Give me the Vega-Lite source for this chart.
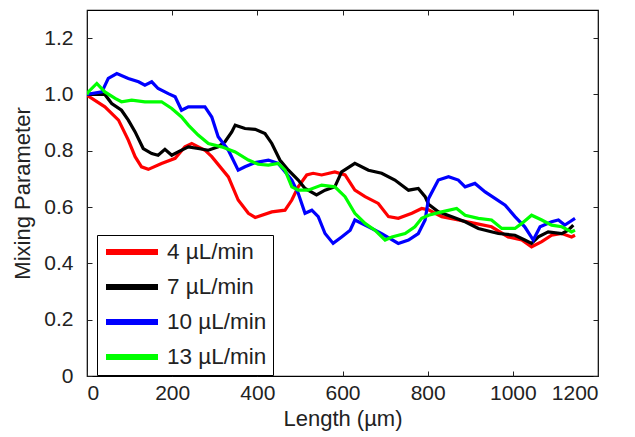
{
  "$schema": "https://vega.github.io/schema/vega-lite/v6.json",
  "width": 511,
  "height": 366,
  "autosize": {"type": "none"},
  "padding": {"left": 87, "top": 10, "right": 37, "bottom": 61},
  "background": "white",
  "config": {
    "font": "Liberation Sans",
    "view": {"stroke": "black", "strokeWidth": 1.2},
    "axis": {"grid": false, "domain": false, "tickColor": "#222", "tickSize": -5, "labelFont": "Liberation Sans", "labelFontSize": 21, "labelColor": "#222", "titleFont": "Liberation Sans", "titleFontSize": 22, "titleFontWeight": "normal", "titleColor": "#222"}
  },
  "data": {"values": [
    {"s":"4 µL/min","x":0,"y":1.0},{"s":"4 µL/min","x":3,"y":0.994},{"s":"4 µL/min","x":42,"y":0.956},{"s":"4 µL/min","x":74,"y":0.909},{"s":"4 µL/min","x":97,"y":0.838},{"s":"4 µL/min","x":113,"y":0.779},{"s":"4 µL/min","x":128,"y":0.743},{"s":"4 µL/min","x":144,"y":0.734},{"s":"4 µL/min","x":175,"y":0.755},{"s":"4 µL/min","x":207,"y":0.773},{"s":"4 µL/min","x":230,"y":0.814},{"s":"4 µL/min","x":246,"y":0.826},{"s":"4 µL/min","x":277,"y":0.802},{"s":"4 µL/min","x":293,"y":0.779},{"s":"4 µL/min","x":332,"y":0.707},{"s":"4 µL/min","x":355,"y":0.625},{"s":"4 µL/min","x":379,"y":0.578},{"s":"4 µL/min","x":395,"y":0.563},{"s":"4 µL/min","x":434,"y":0.583},{"s":"4 µL/min","x":465,"y":0.589},{"s":"4 µL/min","x":481,"y":0.625},{"s":"4 µL/min","x":496,"y":0.672},{"s":"4 µL/min","x":516,"y":0.714},{"s":"4 µL/min","x":531,"y":0.72},{"s":"4 µL/min","x":551,"y":0.714},{"s":"4 µL/min","x":582,"y":0.725},{"s":"4 µL/min","x":606,"y":0.714},{"s":"4 µL/min","x":629,"y":0.66},{"s":"4 µL/min","x":653,"y":0.637},{"s":"4 µL/min","x":684,"y":0.613},{"s":"4 µL/min","x":708,"y":0.566},{"s":"4 µL/min","x":731,"y":0.56},{"s":"4 µL/min","x":763,"y":0.578},{"s":"4 µL/min","x":786,"y":0.595},{"s":"4 µL/min","x":802,"y":0.59},{"s":"4 µL/min","x":833,"y":0.566},{"s":"4 µL/min","x":872,"y":0.554},{"s":"4 µL/min","x":911,"y":0.542},{"s":"4 µL/min","x":950,"y":0.53},{"s":"4 µL/min","x":989,"y":0.494},{"s":"4 µL/min","x":1021,"y":0.483},{"s":"4 µL/min","x":1044,"y":0.459},{"s":"4 µL/min","x":1068,"y":0.477},{"s":"4 µL/min","x":1091,"y":0.5},{"s":"4 µL/min","x":1115,"y":0.506},{"s":"4 µL/min","x":1138,"y":0.494},{"s":"4 µL/min","x":1146,"y":0.5},
    {"s":"7 µL/min","x":0,"y":1.0},{"s":"7 µL/min","x":42,"y":1.0},{"s":"7 µL/min","x":58,"y":0.968},{"s":"7 µL/min","x":81,"y":0.944},{"s":"7 µL/min","x":97,"y":0.909},{"s":"7 µL/min","x":113,"y":0.867},{"s":"7 µL/min","x":132,"y":0.808},{"s":"7 µL/min","x":152,"y":0.79},{"s":"7 µL/min","x":167,"y":0.784},{"s":"7 µL/min","x":183,"y":0.805},{"s":"7 µL/min","x":199,"y":0.784},{"s":"7 µL/min","x":214,"y":0.796},{"s":"7 µL/min","x":238,"y":0.814},{"s":"7 µL/min","x":261,"y":0.808},{"s":"7 µL/min","x":285,"y":0.802},{"s":"7 µL/min","x":308,"y":0.814},{"s":"7 µL/min","x":324,"y":0.832},{"s":"7 µL/min","x":340,"y":0.867},{"s":"7 µL/min","x":348,"y":0.891},{"s":"7 µL/min","x":371,"y":0.879},{"s":"7 µL/min","x":395,"y":0.876},{"s":"7 µL/min","x":418,"y":0.861},{"s":"7 µL/min","x":434,"y":0.826},{"s":"7 µL/min","x":453,"y":0.767},{"s":"7 µL/min","x":473,"y":0.731},{"s":"7 µL/min","x":496,"y":0.696},{"s":"7 µL/min","x":512,"y":0.666},{"s":"7 µL/min","x":539,"y":0.643},{"s":"7 µL/min","x":559,"y":0.66},{"s":"7 µL/min","x":582,"y":0.672},{"s":"7 µL/min","x":598,"y":0.725},{"s":"7 µL/min","x":629,"y":0.755},{"s":"7 µL/min","x":661,"y":0.731},{"s":"7 µL/min","x":692,"y":0.72},{"s":"7 µL/min","x":723,"y":0.696},{"s":"7 µL/min","x":755,"y":0.66},{"s":"7 µL/min","x":778,"y":0.666},{"s":"7 µL/min","x":794,"y":0.637},{"s":"7 µL/min","x":802,"y":0.61},{"s":"7 µL/min","x":825,"y":0.583},{"s":"7 µL/min","x":857,"y":0.566},{"s":"7 µL/min","x":888,"y":0.548},{"s":"7 µL/min","x":919,"y":0.524},{"s":"7 µL/min","x":966,"y":0.506},{"s":"7 µL/min","x":1005,"y":0.5},{"s":"7 µL/min","x":1028,"y":0.483},{"s":"7 µL/min","x":1044,"y":0.471},{"s":"7 µL/min","x":1060,"y":0.494},{"s":"7 µL/min","x":1083,"y":0.512},{"s":"7 µL/min","x":1115,"y":0.506},{"s":"7 µL/min","x":1130,"y":0.518},{"s":"7 µL/min","x":1142,"y":0.536},
    {"s":"10 µL/min","x":0,"y":1.0},{"s":"10 µL/min","x":35,"y":1.009},{"s":"10 µL/min","x":50,"y":1.057},{"s":"10 µL/min","x":70,"y":1.074},{"s":"10 µL/min","x":97,"y":1.057},{"s":"10 µL/min","x":121,"y":1.045},{"s":"10 µL/min","x":136,"y":1.033},{"s":"10 µL/min","x":152,"y":1.045},{"s":"10 µL/min","x":167,"y":1.021},{"s":"10 µL/min","x":191,"y":1.003},{"s":"10 µL/min","x":207,"y":0.992},{"s":"10 µL/min","x":222,"y":0.944},{"s":"10 µL/min","x":238,"y":0.956},{"s":"10 µL/min","x":254,"y":0.956},{"s":"10 µL/min","x":277,"y":0.956},{"s":"10 µL/min","x":293,"y":0.92},{"s":"10 µL/min","x":308,"y":0.85},{"s":"10 µL/min","x":332,"y":0.802},{"s":"10 µL/min","x":355,"y":0.731},{"s":"10 µL/min","x":371,"y":0.743},{"s":"10 µL/min","x":395,"y":0.758},{"s":"10 µL/min","x":426,"y":0.767},{"s":"10 µL/min","x":449,"y":0.755},{"s":"10 µL/min","x":481,"y":0.696},{"s":"10 µL/min","x":496,"y":0.649},{"s":"10 µL/min","x":512,"y":0.578},{"s":"10 µL/min","x":528,"y":0.589},{"s":"10 µL/min","x":543,"y":0.566},{"s":"10 µL/min","x":559,"y":0.506},{"s":"10 µL/min","x":578,"y":0.471},{"s":"10 µL/min","x":598,"y":0.494},{"s":"10 µL/min","x":618,"y":0.518},{"s":"10 µL/min","x":629,"y":0.554},{"s":"10 µL/min","x":661,"y":0.53},{"s":"10 µL/min","x":692,"y":0.506},{"s":"10 µL/min","x":731,"y":0.471},{"s":"10 µL/min","x":755,"y":0.483},{"s":"10 µL/min","x":778,"y":0.506},{"s":"10 µL/min","x":794,"y":0.554},{"s":"10 µL/min","x":802,"y":0.63},{"s":"10 µL/min","x":825,"y":0.696},{"s":"10 µL/min","x":849,"y":0.708},{"s":"10 µL/min","x":872,"y":0.696},{"s":"10 µL/min","x":888,"y":0.672},{"s":"10 µL/min","x":911,"y":0.684},{"s":"10 µL/min","x":935,"y":0.654},{"s":"10 µL/min","x":958,"y":0.631},{"s":"10 µL/min","x":982,"y":0.607},{"s":"10 µL/min","x":1005,"y":0.566},{"s":"10 µL/min","x":1028,"y":0.53},{"s":"10 µL/min","x":1048,"y":0.483},{"s":"10 µL/min","x":1064,"y":0.53},{"s":"10 µL/min","x":1091,"y":0.548},{"s":"10 µL/min","x":1107,"y":0.554},{"s":"10 µL/min","x":1122,"y":0.536},{"s":"10 µL/min","x":1134,"y":0.548},{"s":"10 µL/min","x":1146,"y":0.56},
    {"s":"13 µL/min","x":0,"y":1.0},{"s":"13 µL/min","x":3,"y":1.009},{"s":"13 µL/min","x":23,"y":1.039},{"s":"13 µL/min","x":42,"y":1.009},{"s":"13 µL/min","x":66,"y":0.986},{"s":"13 µL/min","x":81,"y":0.974},{"s":"13 µL/min","x":105,"y":0.98},{"s":"13 µL/min","x":136,"y":0.974},{"s":"13 µL/min","x":175,"y":0.974},{"s":"13 µL/min","x":199,"y":0.95},{"s":"13 µL/min","x":222,"y":0.92},{"s":"13 µL/min","x":238,"y":0.891},{"s":"13 µL/min","x":261,"y":0.856},{"s":"13 µL/min","x":285,"y":0.826},{"s":"13 µL/min","x":316,"y":0.814},{"s":"13 µL/min","x":348,"y":0.796},{"s":"13 µL/min","x":379,"y":0.767},{"s":"13 µL/min","x":402,"y":0.752},{"s":"13 µL/min","x":426,"y":0.749},{"s":"13 µL/min","x":449,"y":0.755},{"s":"13 µL/min","x":465,"y":0.731},{"s":"13 µL/min","x":481,"y":0.672},{"s":"13 µL/min","x":496,"y":0.66},{"s":"13 µL/min","x":519,"y":0.66},{"s":"13 µL/min","x":551,"y":0.678},{"s":"13 µL/min","x":582,"y":0.672},{"s":"13 µL/min","x":606,"y":0.637},{"s":"13 µL/min","x":629,"y":0.578},{"s":"13 µL/min","x":653,"y":0.542},{"s":"13 µL/min","x":676,"y":0.518},{"s":"13 µL/min","x":700,"y":0.483},{"s":"13 µL/min","x":716,"y":0.494},{"s":"13 µL/min","x":747,"y":0.506},{"s":"13 µL/min","x":770,"y":0.53},{"s":"13 µL/min","x":786,"y":0.56},{"s":"13 µL/min","x":802,"y":0.571},{"s":"13 µL/min","x":833,"y":0.583},{"s":"13 µL/min","x":868,"y":0.595},{"s":"13 µL/min","x":888,"y":0.571},{"s":"13 µL/min","x":919,"y":0.56},{"s":"13 µL/min","x":950,"y":0.554},{"s":"13 µL/min","x":974,"y":0.524},{"s":"13 µL/min","x":1005,"y":0.524},{"s":"13 µL/min","x":1021,"y":0.542},{"s":"13 µL/min","x":1044,"y":0.571},{"s":"13 µL/min","x":1068,"y":0.554},{"s":"13 µL/min","x":1091,"y":0.536},{"s":"13 µL/min","x":1115,"y":0.53},{"s":"13 µL/min","x":1138,"y":0.512},{"s":"13 µL/min","x":1146,"y":0.518}
  ]},
  "layer": [
    {
      "mark": {"type": "line", "strokeWidth": 3.2, "clip": true},
      "encoding": {
        "x": {"field": "x", "type": "quantitative", "scale": {"domain": [0, 1200], "nice": false, "zero": false},
              "axis": {"orient": "bottom", "values": [0, 200, 400, 600, 800, 1000, 1200], "format": "d", "labelPadding": 11, "title": "Length (µm)", "titlePadding": 5}},
        "y": {"field": "y", "type": "quantitative", "scale": {"domain": [0, 1.3], "nice": false, "zero": false},
              "axis": {"orient": "left", "values": [0, 0.2, 0.4, 0.6, 0.8, 1.0, 1.2], "labelExpr": "datum.value == 0 ? '0' : format(datum.value, '.1f')", "labelPadding": 19, "title": "Mixing Parameter", "titlePadding": 9}},
        "color": {"field": "s", "type": "nominal", "sort": ["4 µL/min", "7 µL/min", "10 µL/min", "13 µL/min"],
                  "scale": {"domain": ["4 µL/min", "7 µL/min", "10 µL/min", "13 µL/min"], "range": ["#ff0000", "#000000", "#0000ff", "#00ff00"]},
                  "legend": {"orient": "none", "legendX": 10, "legendY": 225, "title": null, "strokeColor": "black", "fillColor": "white", "padding": 6, "symbolType": "stroke", "symbolSize": 2704, "symbolStrokeWidth": 6, "symbolOpacity": 1, "clipHeight": 22, "labelFontSize": 22.5, "labelFont": "Liberation Sans", "labelColor": "#222", "labelOffset": 6, "rowPadding": 12}}
      }
    },
    {
      "mark": {"type": "line", "opacity": 0},
      "encoding": {
        "x": {"field": "x", "type": "quantitative", "axis": {"orient": "top", "values": [0, 200, 400, 600, 800, 1000, 1200], "labels": false, "title": null}},
        "y": {"field": "y", "type": "quantitative", "axis": {"orient": "right", "values": [0, 0.2, 0.4, 0.6, 0.8, 1.0, 1.2], "labels": false, "title": null}}
      }
    }
  ],
  "resolve": {"axis": {"x": "independent", "y": "independent"}}
}
